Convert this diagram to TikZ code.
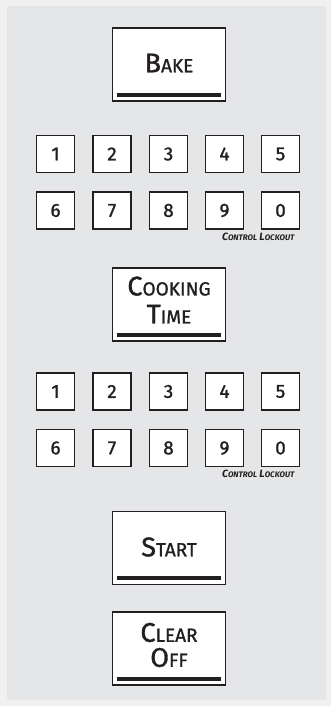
\documentclass[tikz,border=0pt]{standalone}
\usepackage{fontspec}
\setmainfont{Fira Sans}
\newfontfamily\keyfont{Fira Sans}[FakeBold=1.2]
\definecolor{panel}{HTML}{E5E6E7}
\definecolor{outerbg}{HTML}{F0F0F1}
\definecolor{ink}{HTML}{231F20}
\newcommand\bigsc[2]{{\fontsize{27}{28}\selectfont #1}{\fontsize{19}{28}\selectfont #2}}
\newcommand\tinysc[2]{{\fontsize{10.5}{10}\selectfont #1}{\fontsize{8}{10}\selectfont #2}}
\tikzset{
  bigkey/.style={draw=ink, fill=white, line width=1.6pt, minimum width=113pt, minimum height=73pt, inner sep=0pt},
  keytext/.style={text=ink, inner sep=0pt, align=center, font=\keyfont\fontsize{27}{28}\selectfont},
  numkey/.style={draw=ink, fill=white, line width=1.5pt, minimum width=38pt, minimum height=37pt, inner sep=0pt, text=ink, font=\keyfont\fontsize{19}{19}\selectfont},
  keybar/.style={draw=ink, line width=4pt},
  locklabel/.style={text=ink, font=\fontsize{10}{10}\selectfont\bfseries\itshape, inner sep=0pt}
}
\begin{document}
\begin{tikzpicture}[x=1pt,y=-1pt]
\fill[outerbg] (0,0) rectangle (331,706);
\fill[panel] (7,6) rectangle (326,700);
\useasboundingbox (0,0) rectangle (331,706);

% big keys
\node[bigkey] (bake) at (169,64.5) {};
\node[keytext] (baketxt) at (169,63) {\bigsc{B}{AKE}};
\node[bigkey] (cook) at (169,304.5) {};
\node[keytext] (cooktxt) at (169,300) {\bigsc{C}{OOKING}\\\bigsc{T}{IME}};
\node[bigkey] (start) at (169,548) {};
\node[keytext] (starttxt) at (169,547) {\bigsc{S}{TART}};
\node[bigkey] (clear) at (169,648.5) {};
\node[keytext] (cleartxt) at (169,645) {\bigsc{C}{LEAR}\\[-3pt]\bigsc{O}{FF}};
\foreach \k in {bake,cook,start,clear}{
  \draw[keybar] ([xshift=5pt,yshift=7pt]\k.south west) -- ([xshift=-5pt,yshift=7pt]\k.south east);
}

% number pads
\foreach \pad/\yy in {a/154, b/391.5}{
  \foreach \d/\xx in {1/55.5,2/112,3/168.5,4/224.5,5/280.5}{
    \node[numkey] (\pad\d) at (\xx,\yy) {\d};
  }
  \foreach \d/\xx in {6/55.5,7/112,8/168.5,9/224.5,0/280.5}{
    \node[numkey] (\pad\d) at (\xx,\yy+56.5) {\d};
  }
  \node[locklabel, anchor=north] (\pad lock) at ([xshift=14pt,yshift=-3pt]\pad9.south east) {\tinysc{C}{ONTROL} \tinysc{L}{OCKOUT}};
}
\end{tikzpicture}
\end{document}
